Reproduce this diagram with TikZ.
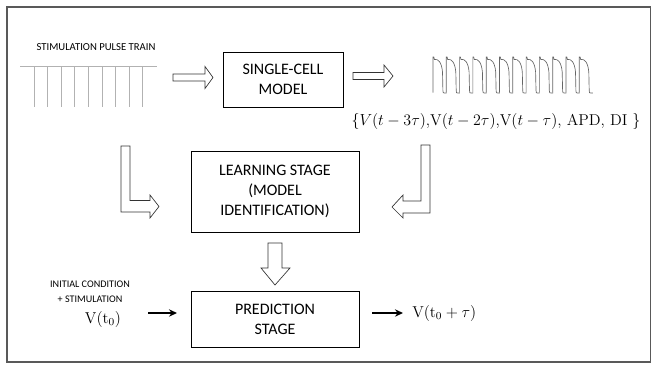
\documentclass[tikz,border=0pt]{standalone}
\usepackage{fontspec}
\newfontfamily\carlito{Carlito}
\usetikzlibrary{arrows.meta}
\tikzset{
  frame/.style={draw=black!65, line width=1.1pt},
  box/.style={draw=black, line width=0.6pt, align=center, inner sep=0pt, font=\carlito\fontsize{12}{15}\selectfont},
  hollow/.style={draw=black!80, fill=white, line width=0.5pt, line join=miter},
  pulse/.style={draw=black!30, line width=0.5pt},
  wave/.style={draw=black!60, line width=0.5pt},
  small/.style={font=\carlito\fontsize{8}{9.5}\selectfont, align=center, inner sep=0pt},
  smaller/.style={font=\carlito\fontsize{7.6}{11.5}\selectfont, align=center, inner sep=0pt},
  mathtext/.style={font=\fontsize{11.8}{14}\selectfont, inner sep=0pt},
  blackarrow/.style={-{Stealth[length=6pt,width=5.5pt]}, line width=1.4pt}
}
\begin{document}
\begin{tikzpicture}[x=0.75pt,y=-0.75pt]
\useasboundingbox (0,0) rectangle (652,364);
\draw[frame] (7,7) rectangle (650.5,362);

% stimulation pulse train
\node[small] (stimlabel) at (96,47) {STIMULATION PULSE TRAIN};
\draw[pulse] (20,66) -- (157,66);
\foreach \i in {0,...,8} {
  \draw[pulse] ({34+13.6*\i},66) -- ({34+13.6*\i},107);
}

% boxes
\node[box, minimum width=90pt, minimum height=41.25pt] (single) at (283,79.5) {SINGLE-CELL\\MODEL};
\node[box, minimum width=126pt, minimum height=60.75pt] (learn) at (275,191.5) {LEARNING STAGE\\(MODEL\\IDENTIFICATION)};
\node[box, minimum width=126pt, minimum height=42pt] (pred) at (275,319) {PREDICTION\\STAGE};

% hollow arrows
\draw[hollow] (173,74) -- (205,74) -- (205,66.5) -- (213,77.5) -- (205,88.5) -- (205,81) -- (173,81) -- cycle;
\draw[hollow] (353,72.5) -- (384,72.5) -- (384,65) -- (393,76) -- (384,87) -- (384,79.5) -- (353,79.5) -- cycle;
\draw[hollow] (121,146) -- (130,146) -- (130,200.5) -- (150,200.5) -- (150,195) -- (159,206.5) -- (150,218) -- (150,212) -- (121,212) -- cycle;
\draw[hollow] (430,145) -- (421,145) -- (421,201) -- (403,201) -- (403,195) -- (392,207) -- (403,218) -- (403,213) -- (430,213) -- cycle;
\draw[hollow] (268,243) -- (282,243) -- (282,268) -- (290,268) -- (275,285) -- (261,268) -- (268,268) -- cycle;

% action potential train
\foreach \i in {0,...,11} {
  \pgfmathsetmacro\xa{433+13.3*\i}
  \draw[wave] (\xa,92.5) -- (\xa,57) .. controls (\xa+0.8,56.5) .. (\xa+1.4,59.5)
     .. controls (\xa+5,58.5) and (\xa+8.6,62) .. (\xa+9.5,72)
     -- (\xa+9.9,90.5) .. controls (\xa+10.1,93) .. (\xa+11.5,93) -- (\xa+13.3,93) -- (\xa+13.3,92.5);
}
\node[mathtext] (outset) at (496,121) {$\{V(t-3\tau)$,V$(t-2\tau)$,V$(t-\tau)$, APD, DI $\}$};

% bottom row
\node[smaller] (initlabel) at (90,292) {INITIAL CONDITION\\+ STIMULATION};
\node[mathtext] (vt0) at (103,319) {$\mathrm{V}(\mathrm{t}_0)$};
\coordinate (ina) at (148,313);
\coordinate (inb) at (177,313);
\draw[blackarrow] (ina) -- (inb);
\coordinate (outa) at (372,313);
\coordinate (outb) at (403,313);
\draw[blackarrow] (outa) -- (outb);
\node[mathtext, anchor=west] (vout) at (412,313) {$\mathrm{V}(\mathrm{t}_0+\tau)$};
\end{tikzpicture}
\end{document}
